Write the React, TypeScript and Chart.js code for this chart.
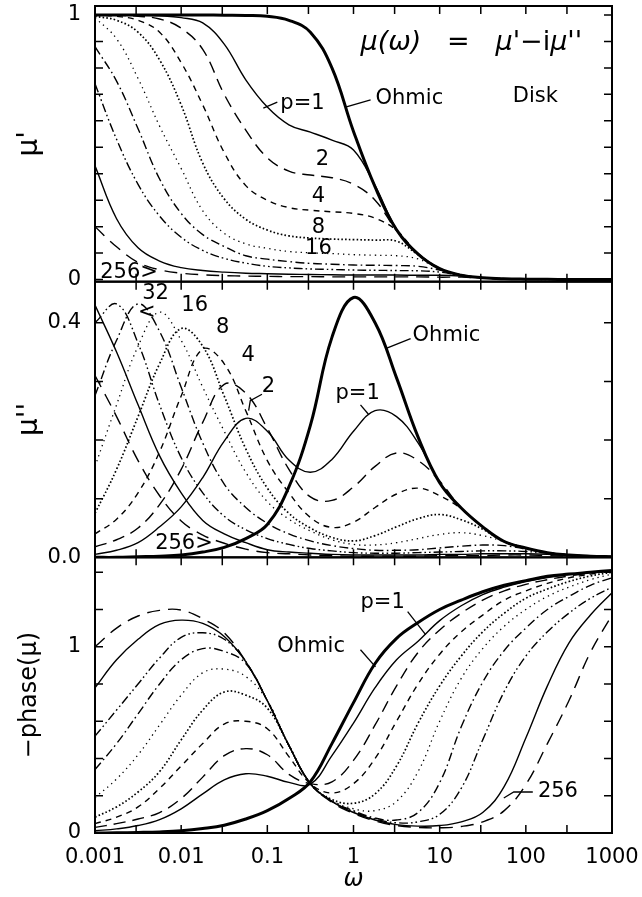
import React, { useEffect, useRef } from "react";
import { Chart, registerables } from "chart.js";
Chart.register(...registerables);

// ---------- data ----------
const OMEGA = [0.001, 0.00178, 0.00316, 0.00562, 0.01, 0.0178, 0.0316, 0.0562, 0.1, 0.178, 0.316, 0.562, 1, 1.78, 3.16, 5.62, 10, 17.8, 31.6, 56.2, 100, 178, 316, 562, 1000];

const SERIES_KEYS = ["ohmic", "p1", "p2", "p4", "p8", "p16", "p32", "p64", "p128", "p256"];

// mu' (top panel)
const MU1_OHMIC = [1.0, 1.0, 1.0, 1.0, 1.0, 1.0, 0.999, 0.998, 0.995, 0.98, 0.935, 0.80, 0.56, 0.35, 0.188, 0.096, 0.041, 0.016, 0.007, 0.003, 0.0015, 0.0008, 0.0004, 0.0002, 0.0001];
const MU1_P1 = [1.0, 1.0, 0.999, 0.997, 0.99, 0.97, 0.89, 0.755, 0.652, 0.585, 0.557, 0.527, 0.49, 0.355, 0.19, 0.098, 0.042, 0.017, 0.007, 0.003, 0.0015, 0.0008, 0.0004, 0.0002, 0.0001];
const MU1_P2 = [1.0, 0.999, 0.995, 0.985, 0.95, 0.87, 0.70, 0.565, 0.46, 0.41, 0.395, 0.385, 0.36, 0.30, 0.185, 0.096, 0.041, 0.016, 0.007, 0.003, 0.0015, 0.0008, 0.0004, 0.0002, 0.0001];
const MU1_P4 = [1.0, 0.995, 0.98, 0.935, 0.82, 0.66, 0.48, 0.355, 0.30, 0.272, 0.262, 0.256, 0.25, 0.232, 0.186, 0.097, 0.041, 0.016, 0.007, 0.003, 0.0015, 0.0008, 0.0004, 0.0002, 0.0001];
const MU1_P8 = [0.995, 0.98, 0.935, 0.83, 0.66, 0.44, 0.305, 0.228, 0.187, 0.165, 0.157, 0.153, 0.151, 0.149, 0.145, 0.094, 0.041, 0.016, 0.007, 0.003, 0.0015, 0.0008, 0.0004, 0.0002, 0.0001];
const MU1_P16 = [0.99, 0.91, 0.76, 0.58, 0.42, 0.26, 0.175, 0.135, 0.118, 0.106, 0.101, 0.098, 0.094, 0.092, 0.09, 0.078, 0.04, 0.016, 0.007, 0.003, 0.0015, 0.0008, 0.0004, 0.0002, 0.0001];
const MU1_P32 = [0.88, 0.75, 0.57, 0.38, 0.25, 0.17, 0.125, 0.09, 0.077, 0.068, 0.061, 0.058, 0.055, 0.054, 0.053, 0.05, 0.036, 0.017, 0.007, 0.003, 0.0015, 0.0008, 0.0004, 0.0002, 0.0001];
const MU1_P64 = [0.74, 0.53, 0.36, 0.24, 0.16, 0.11, 0.08, 0.062, 0.05, 0.044, 0.04, 0.038, 0.036, 0.035, 0.034, 0.033, 0.028, 0.016, 0.007, 0.003, 0.0015, 0.0008, 0.0004, 0.0002, 0.0001];
const MU1_P128 = [0.43, 0.23, 0.12, 0.07, 0.045, 0.034, 0.028, 0.024, 0.022, 0.02, 0.019, 0.018, 0.017, 0.017, 0.017, 0.016, 0.016, 0.013, 0.007, 0.003, 0.0015, 0.0008, 0.0004, 0.0002, 0.0001];
const MU1_P256 = [0.2, 0.124, 0.065, 0.037, 0.024, 0.018, 0.015, 0.013, 0.012, 0.011, 0.011, 0.01, 0.01, 0.01, 0.01, 0.01, 0.009, 0.009, 0.006, 0.003, 0.0015, 0.0008, 0.0004, 0.0002, 0.0001];

// mu'' (middle panel)
const MU2_OHMIC = [0, 0, 0.001, 0.002, 0.004, 0.009, 0.017, 0.032, 0.056, 0.12, 0.225, 0.375, 0.443, 0.40, 0.306, 0.205, 0.127, 0.084, 0.052, 0.027, 0.016, 0.008, 0.004, 0.002, 0.001];
const MU2_P1 = [0.005, 0.012, 0.025, 0.052, 0.086, 0.136, 0.198, 0.237, 0.215, 0.166, 0.145, 0.167, 0.215, 0.25, 0.24, 0.195, 0.128, 0.084, 0.052, 0.027, 0.016, 0.008, 0.004, 0.002, 0.001];
const MU2_P2 = [0.018, 0.03, 0.05, 0.09, 0.15, 0.23, 0.295, 0.28, 0.22, 0.15, 0.103, 0.097, 0.12, 0.155, 0.178, 0.165, 0.13, 0.084, 0.052, 0.027, 0.016, 0.008, 0.004, 0.002, 0.001];
const MU2_P4 = [0.04, 0.065, 0.11, 0.18, 0.275, 0.355, 0.33, 0.25, 0.165, 0.11, 0.068, 0.051, 0.06, 0.085, 0.108, 0.118, 0.105, 0.083, 0.052, 0.027, 0.016, 0.008, 0.004, 0.002, 0.001];
const MU2_P8 = [0.075, 0.15, 0.24, 0.33, 0.39, 0.36, 0.275, 0.185, 0.118, 0.075, 0.05, 0.034, 0.028, 0.037, 0.052, 0.066, 0.073, 0.064, 0.048, 0.027, 0.016, 0.008, 0.004, 0.002, 0.001];
const MU2_P16 = [0.155, 0.26, 0.36, 0.418, 0.37, 0.29, 0.215, 0.145, 0.095, 0.065, 0.045, 0.03, 0.022, 0.021, 0.025, 0.032, 0.039, 0.042, 0.037, 0.027, 0.016, 0.008, 0.004, 0.002, 0.001];
const MU2_P32 = [0.276, 0.37, 0.432, 0.385, 0.29, 0.195, 0.125, 0.085, 0.058, 0.04, 0.028, 0.02, 0.015, 0.012, 0.012, 0.013, 0.016, 0.019, 0.021, 0.02, 0.014, 0.008, 0.004, 0.002, 0.001];
const MU2_P64 = [0.40, 0.432, 0.365, 0.26, 0.17, 0.11, 0.07, 0.047, 0.032, 0.022, 0.015, 0.011, 0.008, 0.007, 0.007, 0.008, 0.009, 0.01, 0.011, 0.011, 0.01, 0.007, 0.004, 0.002, 0.001];
const MU2_P128 = [0.43, 0.35, 0.26, 0.173, 0.11, 0.063, 0.04, 0.025, 0.013, 0.009, 0.007, 0.005, 0.004, 0.004, 0.004, 0.004, 0.005, 0.005, 0.006, 0.006, 0.006, 0.005, 0.003, 0.002, 0.001];
const MU2_P256 = [0.31, 0.24, 0.165, 0.105, 0.062, 0.038, 0.024, 0.014, 0.008, 0.006, 0.004, 0.003, 0.002, 0.002, 0.002, 0.002, 0.003, 0.003, 0.003, 0.004, 0.004, 0.003, 0.002, 0.001, 0.001];

// -phase(mu) (bottom panel)
const PH_OHMIC = [0.0, 0.001, 0.003, 0.006, 0.012, 0.024, 0.042, 0.075, 0.12, 0.185, 0.275, 0.48, 0.70, 0.91, 1.045, 1.13, 1.20, 1.25, 1.295, 1.33, 1.355, 1.378, 1.39, 1.40, 1.41];
const PH_P1 = [0.012, 0.022, 0.04, 0.072, 0.13, 0.21, 0.285, 0.318, 0.305, 0.272, 0.262, 0.415, 0.59, 0.78, 0.93, 1.03, 1.14, 1.22, 1.28, 1.32, 1.35, 1.372, 1.388, 1.40, 1.41];
const PH_P2 = [0.03, 0.05, 0.075, 0.11, 0.185, 0.30, 0.415, 0.453, 0.42, 0.315, 0.265, 0.275, 0.39, 0.58, 0.79, 0.97, 1.09, 1.18, 1.25, 1.30, 1.335, 1.36, 1.38, 1.395, 1.41];
const PH_P4 = [0.05, 0.085, 0.14, 0.24, 0.36, 0.48, 0.585, 0.60, 0.56, 0.41, 0.265, 0.215, 0.265, 0.40, 0.60, 0.80, 0.96, 1.08, 1.17, 1.25, 1.30, 1.34, 1.37, 1.39, 1.41];
const PH_P8 = [0.085, 0.14, 0.22, 0.33, 0.50, 0.66, 0.757, 0.74, 0.67, 0.47, 0.265, 0.18, 0.16, 0.21, 0.36, 0.59, 0.79, 0.95, 1.08, 1.18, 1.26, 1.31, 1.35, 1.38, 1.40];
const PH_P16 = [0.19, 0.29, 0.42, 0.58, 0.74, 0.86, 0.88, 0.84, 0.71, 0.47, 0.265, 0.175, 0.13, 0.12, 0.17, 0.33, 0.60, 0.83, 0.99, 1.11, 1.20, 1.27, 1.32, 1.36, 1.39];
const PH_P32 = [0.34, 0.48, 0.64, 0.80, 0.93, 0.99, 0.975, 0.91, 0.71, 0.47, 0.265, 0.17, 0.12, 0.08, 0.07, 0.11, 0.27, 0.57, 0.81, 0.98, 1.10, 1.20, 1.27, 1.33, 1.37];
const PH_P64 = [0.52, 0.66, 0.80, 0.94, 1.05, 1.075, 1.04, 0.92, 0.71, 0.47, 0.265, 0.17, 0.115, 0.075, 0.055, 0.06, 0.10, 0.24, 0.50, 0.76, 0.95, 1.08, 1.18, 1.26, 1.32];
const PH_P128 = [0.78, 0.93, 1.04, 1.12, 1.143, 1.125, 1.055, 0.92, 0.71, 0.47, 0.265, 0.17, 0.11, 0.07, 0.045, 0.037, 0.04, 0.06, 0.11, 0.25, 0.51, 0.79, 1.02, 1.17, 1.29];
const PH_P256 = [1.0, 1.10, 1.165, 1.195, 1.197, 1.15, 1.075, 0.92, 0.71, 0.47, 0.265, 0.165, 0.105, 0.065, 0.04, 0.03, 0.028, 0.035, 0.06, 0.12, 0.26, 0.48, 0.71, 0.97, 1.17];

const MU1 = [MU1_OHMIC, MU1_P1, MU1_P2, MU1_P4, MU1_P8, MU1_P16, MU1_P32, MU1_P64, MU1_P128, MU1_P256];
const MU2 = [MU2_OHMIC, MU2_P1, MU2_P2, MU2_P4, MU2_P8, MU2_P16, MU2_P32, MU2_P64, MU2_P128, MU2_P256];
const PH = [PH_OHMIC, PH_P1, PH_P2, PH_P4, PH_P8, PH_P16, PH_P32, PH_P64, PH_P128, PH_P256];

// tick values
const X_LABEL_TICKS = [0.001, 0.01, 0.1, 1, 10, 100, 1000];
const X_MINOR_TICKS = [0.003, 0.03, 0.3, 3, 30, 300];
const TOP_TICKS = [0, 0.1, 0.2, 0.3, 0.4, 0.5, 0.6, 0.7, 0.8, 0.9, 1];
const TOP_LABELS = [0, 1];
const MID_TICKS = [0, 0.1, 0.2, 0.3, 0.4];
const MID_LABELS = [0, 0.4];
const BOT_TICKS = [0, 0.2, 0.4, 0.6, 0.8, 1.0, 1.2, 1.4];
const BOT_LABELS = [0, 1];

// annotation texts (placed in data coordinates)
const LABELS = [
  { panel: "yTop", w: 1.8, v: 0.686, text: "Ohmic", align: "left" },
  { panel: "yTop", w: 70.6, v: 0.69, text: "Disk", align: "left" },
  { panel: "yTop", w: 0.1416, v: 0.667, text: "p=1", align: "left" },
  { panel: "yTop", w: 0.436, v: 0.452, text: "2", align: "center" },
  { panel: "yTop", w: 0.392, v: 0.312, text: "4", align: "center" },
  { panel: "yTop", w: 0.392, v: 0.198, text: "8", align: "center" },
  { panel: "yTop", w: 0.392, v: 0.119, text: "16", align: "center" },
  { panel: "yTop", w: 0.00115, v: 0.028, text: "256>", align: "left" },
  { panel: "yMid", w: 0.00505, v: 0.45, text: "32", align: "center" },
  { panel: "yMid", w: 0.00399, v: 0.418, text: "<", align: "center" },
  { panel: "yMid", w: 0.01436, v: 0.429, text: "16", align: "center" },
  { panel: "yMid", w: 0.0304, v: 0.391, text: "8", align: "center" },
  { panel: "yMid", w: 0.0601, v: 0.344, text: "4", align: "center" },
  { panel: "yMid", w: 0.1028, v: 0.292, text: "2", align: "center" },
  { panel: "yMid", w: 0.00499, v: 0.024, text: "256>", align: "left" },
  { panel: "yMid", w: 4.85, v: 0.378, text: "Ohmic", align: "left" },
  { panel: "yMid", w: 0.618, v: 0.279, text: "p=1", align: "left" },
  { panel: "yBot", w: 1.205, v: 1.237, text: "p=1", align: "left" },
  { panel: "yBot", w: 0.1306, v: 1.0, text: "Ohmic", align: "left" },
  { panel: "yBot", w: 138, v: 0.22, text: "256", align: "left" },
];
const LEADERS = [
  { panel: "yTop", pts: [[1.58, 0.679], [0.807, 0.652]] },
  { panel: "yTop", pts: [[0.1306, 0.671], [0.0898, 0.648]] },
  { panel: "yMid", pts: [[0.0867, 0.278], [0.0634, 0.267], [0.0607, 0.25]] },
  { panel: "yMid", pts: [[4.6, 0.373], [2.355, 0.356]] },
  { panel: "yMid", pts: [[1.205, 0.26], [1.49, 0.244]] },
  { panel: "yBot", pts: [[4.25, 1.188], [6.87, 1.065]] },
  { panel: "yBot", pts: [[1.205, 0.984], [1.8, 0.892]] },
  { panel: "yBot", pts: [[55.5, 0.188], [72.4, 0.22], [120.5, 0.22]] },
];
const FORMULA = { panel: "yTop", w: 1.205, v: 0.894 };

// ---------- styles ----------
const FONT = '"DejaVu Sans"';
const LINE_STYLE: Record<string, { width: number; dash: number[] }> = {
  ohmic: { width: 3, dash: [] },
  p1: { width: 1.4, dash: [] },
  p2: { width: 1.4, dash: [12, 7] },
  p4: { width: 1.4, dash: [6, 5] },
  p8: { width: 1.7, dash: [1.6, 2.2] },
  p16: { width: 1.3, dash: [1.3, 4] },
  p32: { width: 1.4, dash: [9, 3.5, 1.6, 3.5] },
  p64: { width: 1.4, dash: [9, 3, 1.6, 3, 1.6, 3] },
  p128: { width: 1.4, dash: [] },
  p256: { width: 1.4, dash: [13, 8] },
};

function makeDatasets(values: number[][], axis: string) {
  return values.map((arr, i) => {
    const key = SERIES_KEYS[i];
    const st = LINE_STYLE[key];
    return {
      label: axis + "-" + key,
      data: OMEGA.map((w, j) => ({ x: w, y: arr[j] })),
      yAxisID: axis,
      xAxisID: "x",
      borderColor: "#000",
      borderWidth: st.width,
      borderDash: st.dash,
      pointRadius: 0,
      fill: false,
      tension: 0.4,
    };
  });
}

const panelPlugin = {
  id: "panelDecor",
  afterDatasetsDraw(chart: any) {
    const ctx = chart.ctx;
    const xs = chart.scales.x;
    const panels: [string, number[]][] = [
      ["yTop", TOP_TICKS],
      ["yMid", MID_TICKS],
      ["yBot", BOT_TICKS],
    ];
    ctx.save();
    ctx.strokeStyle = "#000";
    ctx.setLineDash([]);
    for (const [id, ticks] of panels) {
      const ys = chart.scales[id];
      const L = xs.left, R = xs.right, T = ys.top, B = ys.bottom;
      ctx.lineWidth = 2;
      ctx.strokeRect(L, T, R - L, B - T);
      ctx.lineWidth = 1.5;
      ctx.beginPath();
      for (const v of ticks) {
        const py = ys.getPixelForValue(v);
        ctx.moveTo(L, py); ctx.lineTo(L + 8, py);
        ctx.moveTo(R, py); ctx.lineTo(R - 8, py);
      }
      for (const w of [...X_LABEL_TICKS, ...X_MINOR_TICKS]) {
        const px = xs.getPixelForValue(w);
        ctx.moveTo(px, T); ctx.lineTo(px, T + 8);
        ctx.moveTo(px, B); ctx.lineTo(px, B - 8);
      }
      ctx.stroke();
    }
    // leaders
    ctx.lineWidth = 1.3;
    for (const ld of LEADERS) {
      const ys = chart.scales[ld.panel];
      ctx.beginPath();
      ld.pts.forEach((p, i) => {
        const px = xs.getPixelForValue(p[0]);
        const py = ys.getPixelForValue(p[1]);
        if (i === 0) ctx.moveTo(px, py); else ctx.lineTo(px, py);
      });
      ctx.stroke();
    }
    // labels
    ctx.fillStyle = "#000";
    ctx.textBaseline = "middle";
    ctx.font = `21px ${FONT}`;
    for (const lb of LABELS) {
      const ys = chart.scales[lb.panel];
      ctx.textAlign = lb.align;
      ctx.fillText(lb.text, xs.getPixelForValue(lb.w), ys.getPixelForValue(lb.v));
    }
    // formula
    const fy = chart.scales[FORMULA.panel].getPixelForValue(FORMULA.v);
    let fx = xs.getPixelForValue(FORMULA.w);
    const parts: [string, boolean][] = [["\u03bc(\u03c9)", true], ["   =   ", false], ["\u03bc'", true], ["\u2212i", false], ["\u03bc''", true]];
    ctx.textAlign = "left";
    for (const [s, it] of parts) {
      ctx.font = `${it ? "italic " : ""}27px ${FONT}`;
      ctx.fillText(s, fx, fy);
      fx += ctx.measureText(s).width;
    }
    ctx.restore();
  },
};

function yScale(min: number, max: number, labels: number[], title: string, titleSize: number, fmt: (v: number) => string) {
  return {
    type: "linear",
    position: "left",
    stack: "panels",
    stackWeight: 1,
    min,
    max,
    grid: { display: false, drawTicks: false },
    border: { display: false },
    afterBuildTicks: (s: any) => {
      s.ticks = labels.map((v) => ({ value: v }));
    },
    afterFit: (s: any) => {
      s.width = 95;
      s.paddingTop = 0;
      s.paddingBottom = 0;
    },
    ticks: {
      padding: 14,
      color: "#000",
      font: { family: FONT, size: 21 },
      callback: (v: any) => fmt(Number(v)),
    },
    title: {
      display: true,
      text: title,
      color: "#000",
      font: { family: FONT, size: titleSize },
      padding: { top: 30 - titleSize * 0.6, bottom: 0 },
    },
  };
}

export default function App() {
  const ref = useRef<HTMLCanvasElement | null>(null);
  useEffect(() => {
    if (!ref.current) return;
    const chart = new Chart(ref.current, {
      type: "line",
      data: {
        datasets: [
          ...makeDatasets(MU1, "yTop"),
          ...makeDatasets(MU2, "yMid"),
          ...makeDatasets(PH, "yBot"),
        ],
      },
      options: {
        responsive: false,
        animation: false,
        layout: { padding: { top: 6, right: 30, left: 0, bottom: 0 } },
        plugins: { legend: { display: false }, tooltip: { enabled: false } },
        scales: {
          x: {
            type: "logarithmic",
            position: "bottom",
            min: 0.001,
            max: 1000,
            grid: { display: false, drawTicks: false },
            border: { display: false },
            afterBuildTicks: (s: any) => {
              s.ticks = X_LABEL_TICKS.map((v) => ({ value: v }));
            },
            afterFit: (s: any) => {
              s.height = 64;
              s.paddingLeft = 0;
              s.paddingRight = 0;
            },
            ticks: {
              autoSkip: false,
              maxRotation: 0,
              padding: 12,
              color: "#000",
              font: { family: FONT, size: 21 },
              callback: (v: any) => String(Number(v)),
            },
            title: {
              display: true,
              text: "\u03c9",
              color: "#000",
              font: { family: FONT, size: 24, style: "italic" },
              padding: { top: 0, bottom: 3 },
            },
          },
          // stacked left axes are laid out bottom-first in definition order
          yBot: yScale(0, 1.48, BOT_LABELS, "\u2212phase(\u03bc)", 24, (v) => String(Math.round(v))),
          yMid: yScale(0, 0.47, MID_LABELS, "\u03bc''", 28, (v) => v.toFixed(1)),
          yTop: yScale(-0.008, 1.034, TOP_LABELS, "\u03bc'", 28, (v) => String(Math.round(v))),
        } as any,
      },
      plugins: [panelPlugin as any],
    });
    return () => chart.destroy();
  }, []);
  return (
    <div style={{ position: "absolute", left: 0, top: 0, width: 642, height: 897, background: "#fff" }}>
      <canvas ref={ref} width={642} height={897} style={{ width: 642, height: 897, display: "block" }} />
    </div>
  );
}
